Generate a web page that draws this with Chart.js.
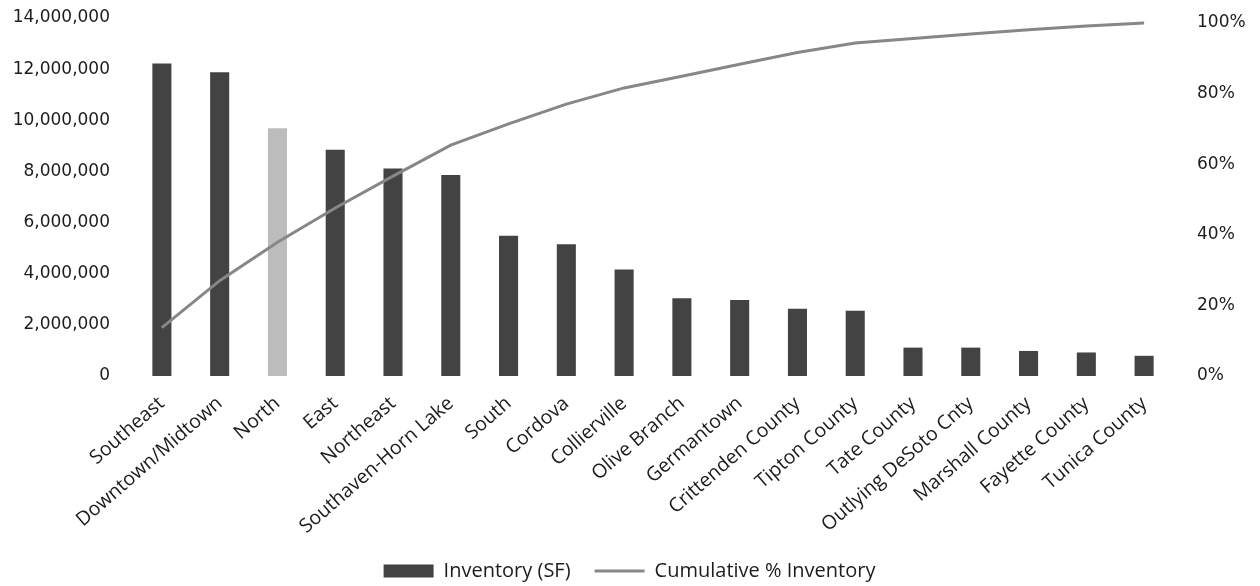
<!DOCTYPE html>
<html>
<head>
<meta charset="utf-8">
<title>Inventory by Submarket</title>
<script src="https://cdn.jsdelivr.net/npm/chart.js@4/dist/chart.umd.min.js"></script>
<style>
  html, body { margin: 0; padding: 0; background: #fff; }
  #mycanvas { display: block; }
</style>
</head>
<body>
<canvas id="mycanvas" width="1260" height="586"></canvas>
<script>
var submarkets = ['Southeast', 'Downtown/Midtown', 'North', 'East', 'Northeast', 'Southaven-Horn Lake',
    'South', 'Cordova', 'Collierville', 'Olive Branch', 'Germantown', 'Crittenden County',
    'Tipton County', 'Tate County', 'Outlying DeSoto Cnty', 'Marshall County', 'Fayette County', 'Tunica County'];

var inventorySF = [12220000, 11880000, 9690000, 8850000, 8110000, 7860000,
    5480000, 5150000, 4160000, 3040000, 2970000, 2630000,
    2550000, 1110000, 1110000, 980000, 920000, 790000];

var cumulativePct = [13.7, 27.0, 37.9, 47.6, 56.6, 65.4,
    71.4, 77.0, 81.6, 84.9, 88.3, 91.6,
    94.3, 95.6, 96.9, 98.1, 99.1, 100];

var leftTicks = [0, 2000000, 4000000, 6000000, 8000000, 10000000, 12000000, 14000000];
var rightTicks = [0, 20, 40, 60, 80, 100];

var highlighted = 'North';

var barDark = '#434343';
var barLight = '#bcbcbc';
var lineGrey = '#878787';
var textColor = '#1c1c1c';

var barColors = [];
for (var i in submarkets) {
    barColors.push(submarkets[i] == highlighted ? barLight : barDark);
}

// fixed box sizes so the plot area lands where the axis labels expect it
function fitX(scale) {
    scale.paddingLeft = 0;
    scale.paddingRight = 0;
    scale.height = 161;
}
function fitLeft(scale) {
    scale.paddingTop = 18;
    scale.paddingBottom = 10;
    scale.width = 120;
}
function fitRight(scale) {
    scale.paddingTop = 18;
    scale.paddingBottom = 10;
    scale.width = 73;
}

var chartdata = {
    labels: submarkets,
    datasets: [
        {
            type: 'bar',
            label: 'Inventory (SF)',
            data: inventorySF,
            backgroundColor: barColors,
            borderWidth: 0,
            barPercentage: 0.33,
            categoryPercentage: 1,
            yAxisID: 'y',
            order: 2
        },
        {
            type: 'line',
            label: 'Cumulative % Inventory',
            data: cumulativePct,
            borderColor: lineGrey,
            backgroundColor: lineGrey,
            borderWidth: 3,
            pointRadius: 0,
            tension: 0,
            fill: false,
            yAxisID: 'y1',
            order: 1
        }
    ]
};

var ctx = document.getElementById('mycanvas');

var bargraph = new Chart(ctx, {
    data: chartdata,
    options: {
        responsive: false,
        animation: false,
        layout: { padding: { top: 0, left: 13, right: 14, bottom: -5 } },
        plugins: {
            tooltip: { enabled: false },
            legend: {
                position: 'bottom',
                labels: {
                    color: textColor,
                    font: { family: 'Open Sans', size: 20 },
                    usePointStyle: true,
                    pointStyleWidth: 50,
                    boxHeight: 13,
                    padding: 24,
                    sort: function (a, b) { return a.datasetIndex - b.datasetIndex; },
                    generateLabels: function (chart) {
                        var items = Chart.defaults.plugins.legend.labels.generateLabels(chart);
                        items.forEach(function (item) {
                            var ds = chart.data.datasets[item.datasetIndex];
                            if (ds.type == 'bar') {
                                item.pointStyle = 'rect';
                                item.fillStyle = barDark;
                                item.strokeStyle = barDark;
                                item.lineWidth = 0;
                            } else {
                                item.pointStyle = 'line';
                                item.lineWidth = 3;
                            }
                        });
                        return items;
                    }
                }
            }
        },
        scales: {
            x: {
                grid: { display: false, drawTicks: false },
                border: { display: false },
                afterFit: fitX,
                ticks: {
                    color: textColor,
                    font: { family: 'Open Sans', size: 19.5 },
                    minRotation: 41,
                    maxRotation: 41,
                    autoSkip: false,
                    padding: 16
                }
            },
            y: {
                position: 'left',
                min: 0,
                max: 14000000,
                grid: { display: false, drawTicks: false },
                border: { display: false },
                afterFit: fitLeft,
                afterBuildTicks: function (scale) {
                    scale.ticks = leftTicks.map(function (v) { return { value: v }; });
                },
                ticks: {
                    color: textColor,
                    font: { family: 'DejaVu Sans', size: 17 },
                    padding: 23,
                    callback: function (v) { return v.toLocaleString('en-US'); }
                }
            },
            y1: {
                position: 'right',
                min: 0,
                max: 101.4,
                grid: { display: false, drawTicks: false },
                border: { display: false },
                afterFit: fitRight,
                afterBuildTicks: function (scale) {
                    scale.ticks = rightTicks.map(function (v) { return { value: v }; });
                },
                ticks: {
                    color: textColor,
                    font: { family: 'DejaVu Sans', size: 17 },
                    padding: 24,
                    callback: function (v) { return v + '%'; }
                }
            }
        }
    }
});
</script>
</body>
</html>
